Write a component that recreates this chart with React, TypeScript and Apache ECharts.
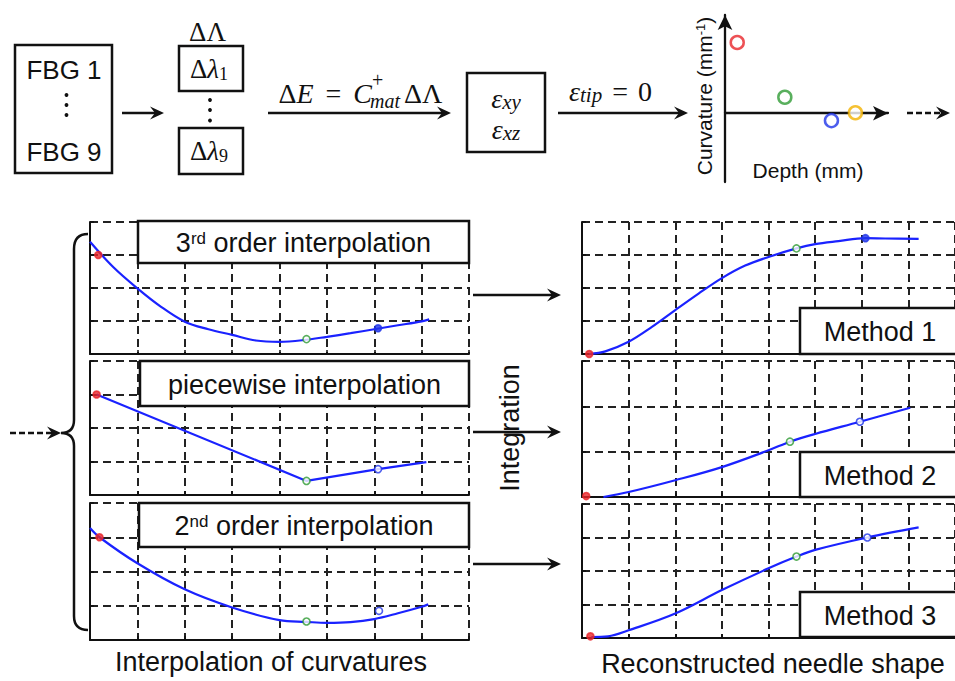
import React, { useEffect, useRef } from "react";
import * as echarts from "echarts";

// ---------------- data ----------------
// top sketch: curvature samples (depth, curvature)
const curvDepth = [0.075, 0.367, 0.653, 0.8];
const curvValue = [0.72, 0.163, -0.075, 0.005];
const curvColors = ["#e8262a", "#2f9b35", "#1f35e8", "#f2b200"];

// 3rd order interpolation
const cubicX = [0, 0.5, 1, 1.5, 2, 2.5, 3, 3.5, 4, 4.5, 5, 5.5, 6, 6.5, 7, 7.16];
const cubicY = [3.4, 2.62, 1.99, 1.43, 0.98, 0.75, 0.58, 0.41, 0.37, 0.42, 0.52, 0.63, 0.75, 0.87, 0.99, 1.05];
const cubicMarkX = [0.175, 4.57, 6.08];
const cubicMarkY = [3.0, 0.45, 0.78];

// piecewise interpolation
const pieceX = [0.14, 4.57, 6.08, 7.1];
const pieceY = [3.0, 0.42, 0.77, 0.98];
const pieceMarkX = [0.14, 4.57, 6.08];
const pieceMarkY = [3.0, 0.42, 0.77];

// 2nd order interpolation
const quadX = [0, 0.2, 1, 2, 3, 4, 4.57, 5, 5.5, 6, 6.5, 7, 7.14];
const quadY = [3.27, 3.0, 2.24, 1.48, 0.95, 0.58, 0.53, 0.5, 0.52, 0.61, 0.78, 0.97, 1.04];
const quadMarkX = [0.2, 4.57, 6.1];
const quadMarkY = [3.0, 0.54, 0.85];

// reconstructed needle shapes
const m1X = [0.155, 0.5, 1, 1.5, 2, 2.5, 3, 3.5, 4, 4.6, 5, 5.5, 6.08, 6.5, 7.22];
const m1Y = [0, 0.08, 0.37, 0.82, 1.33, 1.83, 2.3, 2.68, 2.94, 3.2, 3.33, 3.42, 3.51, 3.5, 3.49];
const m1MarkX = [0.155, 4.6, 6.08];
const m1MarkY = [0, 3.2, 3.51];

const m2X = [0.46, 1, 2, 3, 4, 4.46, 5, 5.96, 7.04];
const m2Y = [0, 0.11, 0.37, 0.66, 1.03, 1.22, 1.39, 1.66, 1.97];
const m2MarkX = [0.09, 4.46, 5.96];
const m2MarkY = [0.02, 1.22, 1.66];

const m3X = [0.2, 0.56, 1, 2, 3, 4, 4.6, 5, 6.12, 7.22];
const m3Y = [0.03, 0.05, 0.23, 0.73, 1.43, 2.08, 2.43, 2.63, 3.0, 3.3];
const m3MarkX = [0.18, 4.6, 6.12];
const m3MarkY = [0.05, 2.43, 3.0];

const markColors = ["#e8262a", "#2f9b35", "#1f35e8"];
const panelTitles = ["3{sup|rd} order interpolation", "piecewise interpolation", "2{sup|nd} order interpolation"];
const methodTitles = ["Method 1", "Method 2", "Method 3"];

// ---------------- layout / style ----------------
const K = "#111";
const SANS = "Liberation Sans, Arial, sans-serif";
const SERIF = "Liberation Serif, Times New Roman, serif";
const BLUE = "#1a22ff";

echarts.graphic.registerShape(
  "brace",
  echarts.graphic.extendPath(
    "M88,234 Q74,234 74,249 L74,420 Q74,433 61,433 Q74,433 74,446 L74,616 Q74,630 88,630",
    {}
  )
);

type Panel = {
  left: number; top: number; width: number; height: number; ymax: number;
  x: number[]; y: number[]; mx: number[]; my: number[]; smooth: boolean; fills: boolean[];
};

const panels: Panel[] = [
  { left: 90, top: 222, width: 379, height: 132, ymax: 4, x: cubicX, y: cubicY, mx: cubicMarkX, my: cubicMarkY, smooth: true, fills: [true, false, true] },
  { left: 90, top: 361, width: 379, height: 134, ymax: 4, x: pieceX, y: pieceY, mx: pieceMarkX, my: pieceMarkY, smooth: false, fills: [true, false, false] },
  { left: 90, top: 503, width: 379, height: 137, ymax: 4, x: quadX, y: quadY, mx: quadMarkX, my: quadMarkY, smooth: true, fills: [true, false, false] },
  { left: 582, top: 222, width: 377, height: 132, ymax: 4, x: m1X, y: m1Y, mx: m1MarkX, my: m1MarkY, smooth: true, fills: [true, false, true] },
  { left: 582, top: 361, width: 377, height: 136, ymax: 3, x: m2X, y: m2Y, mx: m2MarkX, my: m2MarkY, smooth: true, fills: [true, false, false] },
  { left: 582, top: 504, width: 377, height: 134, ymax: 4, x: m3X, y: m3Y, mx: m3MarkX, my: m3MarkY, smooth: true, fills: [true, false, false] },
];

function arrow(x1: number, y: number, x2: number, dashed = false): any[] {
  return [
    { type: "line", z: 100, shape: { x1, y1: y, x2: x2 - 6, y2: y }, style: { stroke: K, lineWidth: 2.3, lineDash: dashed ? [6, 3] : null } },
    { type: "polygon", z: 100, shape: { points: [[x2, y], [x2 - 14, y - 6.5], [x2 - 9, y], [x2 - 14, y + 6.5]] }, style: { fill: K } },
  ];
}
function box(x: number, y: number, w: number, h: number): any {
  return { type: "rect", z: 100, shape: { x, y, width: w, height: h }, style: { fill: "#fff", stroke: K, lineWidth: 2.5 } };
}
function label(x: number, y: number, text: string, fontSize: number, extra: any = {}, el: any = {}): any {
  return {
    type: "text", z: 110, x, y, ...el,
    style: { text, fontSize, fontFamily: SANS, fill: K, align: "center", verticalAlign: "middle", ...extra },
  };
}
function dot(x: number, y: number): any {
  return { type: "circle", z: 100, shape: { cx: x, cy: y, r: 1.9 }, style: { fill: K } };
}

function buildOption(): any {
  const grid: any[] = [];
  const xAxis: any[] = [];
  const yAxis: any[] = [];
  const series: any[] = [];

  // sketch of curvature vs depth
  grid.push({ left: 725, top: 15, width: 163, height: 167 });
  const arrowAxisLine = { show: true, symbol: ["none", "arrow"], symbolSize: [11, 15], lineStyle: { color: K, width: 2.3 } };
  xAxis.push({ type: "value", gridIndex: 0, min: 0, max: 1, axisLine: { ...arrowAxisLine, onZero: true }, axisTick: { show: false }, axisLabel: { show: false }, splitLine: { show: false } });
  yAxis.push({ type: "value", gridIndex: 0, min: -0.7, max: 1, axisLine: { ...arrowAxisLine, onZero: false }, axisTick: { show: false }, axisLabel: { show: false }, splitLine: { show: false } });
  series.push({
    type: "scatter", xAxisIndex: 0, yAxisIndex: 0, symbolSize: 13, z: 5,
    data: curvDepth.map((d, i) => ({ value: [d, curvValue[i]], itemStyle: { color: "#fff", borderColor: curvColors[i], borderWidth: 2.5 } })),
  });

  const gridLine = { show: true, lineStyle: { color: "#222", width: 2, type: [8, 5] } };
  const axLine = { show: true, onZero: false, lineStyle: { color: K, width: 2 } };
  const axTick = { show: true, inside: true, length: 4, lineStyle: { color: K, width: 1.5 } };

  panels.forEach((p, k) => {
    const gi = k + 1;
    grid.push({ left: p.left, top: p.top, width: p.width, height: p.height });
    xAxis.push({
      type: "value", gridIndex: gi, min: 0, max: 8, interval: 1,
      axisLine: axLine, axisTick: axTick, axisLabel: { show: false }, splitLine: gridLine,
    });
    yAxis.push({
      type: "value", gridIndex: gi, min: 0, max: p.ymax, interval: 1,
      axisLine: axLine, axisTick: axTick, axisLabel: { show: false }, splitLine: gridLine,
    });
    series.push({
      type: "line", xAxisIndex: gi, yAxisIndex: gi, showSymbol: false, smooth: p.smooth ? 0.35 : false, z: 3,
      lineStyle: { color: BLUE, width: 2.2 },
      data: p.x.map((v, i) => [v, p.y[i]]),
    });
    series.push({
      type: "scatter", xAxisIndex: gi, yAxisIndex: gi, symbolSize: 7, z: 4,
      data: p.mx.map((v, i) => ({
        value: [v, p.my[i]],
        itemStyle: { color: p.fills[i] ? markColors[i] : "#fff", borderColor: markColors[i], borderWidth: 1.6 },
      })),
    });
  });

  const g: any[] = [];
  // ---- top flow ----
  g.push(box(15, 45, 97, 128));
  g.push(label(64, 70, "FBG 1", 26));
  g.push(label(64, 152, "FBG 9", 26));
  g.push(dot(66.5, 95), dot(66.5, 105), dot(66.5, 115));
  g.push(...arrow(122, 113, 164));

  const lamRich = { i: { fontFamily: SERIF, fontStyle: "italic", fontSize: 27 }, sub: { fontFamily: SERIF, fontSize: 18, verticalAlign: "bottom" } };
  g.push(label(207.5, 32, "ΔΛ", 27, { fontFamily: SERIF }));
  g.push(box(179, 46, 64, 45));
  g.push(label(209, 69, "Δ{i|λ}{sub|1}", 27, { fontFamily: SERIF, rich: lamRich }));
  g.push(dot(210, 100), dot(210, 110), dot(210, 120.5));
  g.push(box(179, 128, 64, 46));
  g.push(label(209, 151, "Δ{i|λ}{sub|9}", 27, { fontFamily: SERIF, rich: lamRich }));

  g.push(...arrow(268, 113, 451));
  g.push(label(372, 93, "Δ{i|E}{eq|=}{i|C}", 28, {
    fontFamily: SERIF, align: "right",
    rich: { i: { fontFamily: SERIF, fontStyle: "italic", fontSize: 28 }, eq: { fontFamily: SERIF, fontSize: 28, padding: [0, 12, 0, 12] } },
  }));
  g.push(label(372, 80, "+", 20, { fontFamily: SERIF, align: "left" }));
  g.push(label(370, 101, "mat", 20, { fontFamily: SERIF, fontStyle: "italic", align: "left" }));
  g.push(label(404, 93, "ΔΛ", 28, { fontFamily: SERIF, align: "left" }));

  g.push(box(467, 73, 78, 79));
  const epsRich = {
    i: { fontFamily: SERIF, fontStyle: "italic", fontSize: 28 },
    sub: { fontFamily: SERIF, fontStyle: "italic", fontSize: 21, verticalAlign: "bottom" },
    eq: { fontFamily: SERIF, fontSize: 28, padding: [0, 10, 0, 10] },
    n: { fontFamily: SERIF, fontSize: 28 },
  };
  g.push(label(506, 98, "{i|ε}{sub|xy}", 28, { fontFamily: SERIF, rich: epsRich }));
  g.push(label(506, 129, "{i|ε}{sub|xz}", 28, { fontFamily: SERIF, rich: epsRich }));

  g.push(...arrow(558, 113, 688));
  g.push(label(569, 91, "{i|ε}{sub|tip}{eq|=}{n|0}", 28, { fontFamily: SERIF, align: "left", rich: epsRich }));

  g.push(label(704, 96, "Curvature (mm{sup|-1})", 21, { rich: { sup: { fontFamily: SANS, fontSize: 13, verticalAlign: "top" } } }, { rotation: Math.PI / 2 }));
  g.push(label(808, 170, "Depth (mm)", 21));
  g.push(...arrow(907, 113, 950, true));

  // ---- left column ----
  g.push({ type: "brace", z: 100, x: 0, y: 0, style: { fill: "none", stroke: K, lineWidth: 2.5 } });
  g.push(...arrow(10, 433, 61, true));
  const titleBoxes = [[138, 221, 331, 42], [140, 361, 329, 45], [139, 503, 330, 44]];
  titleBoxes.forEach((b, i) => {
    g.push(box(b[0], b[1], b[2], b[3]));
    g.push(label(b[0] + b[2] / 2, b[1] + b[3] / 2 + 1, panelTitles[i], 27, { rich: { sup: { fontFamily: SANS, fontSize: 17, verticalAlign: "top" } } }));
  });
  g.push(label(271, 662, "Interpolation of curvatures", 27));

  // ---- arrows / integration ----
  [295, 432, 564].forEach((y) => g.push(...arrow(473, y, 561)));
  g.push(label(510, 428, "Integration", 27, {}, { rotation: Math.PI / 2 }));

  // ---- right column ----
  const methodBoxes = [[800, 308, 170, 46], [800, 452, 170, 45], [800, 592, 170, 45]];
  methodBoxes.forEach((b, i) => {
    g.push(box(b[0], b[1], b[2], b[3]));
    g.push(label(880, b[1] + b[3] / 2 + 1, methodTitles[i], 27));
  });
  g.push(label(773, 664, "Reconstructed needle shape", 27));

  return { animation: false, backgroundColor: "#fff", grid, xAxis, yAxis, series, graphic: { elements: g } };
}

export default function App() {
  const ref = useRef<HTMLDivElement>(null);
  useEffect(() => {
    document.body.style.margin = "0";
    const chart = echarts.init(ref.current!, null, { renderer: "svg" });
    chart.setOption(buildOption());
    return () => chart.dispose();
  }, []);
  return <div ref={ref} style={{ width: 955, height: 681 }} />;
}
